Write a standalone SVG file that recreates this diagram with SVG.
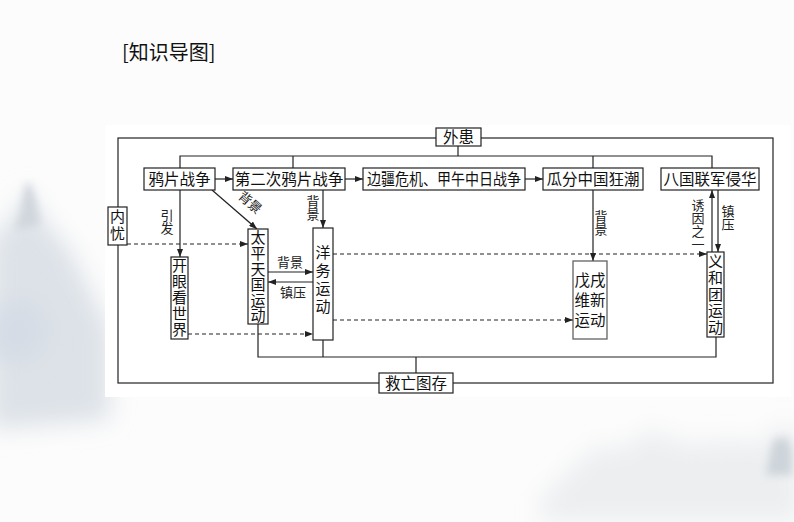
<svg xmlns="http://www.w3.org/2000/svg" width="794" height="522" viewBox="0 0 794 522">
<defs>
<style>
.box{fill:#fff;stroke:#222;stroke-width:1.2}
.ln{fill:none;stroke:#222;stroke-width:1.2}
.ar{fill:none;stroke:#222;stroke-width:1.2;marker-end:url(#ah)}
.da{fill:none;stroke:#222;stroke-width:1.2;stroke-dasharray:4 3;marker-end:url(#ah)}
.t{font-family:"Noto Sans CJK SC","Noto Sans CJK JP",sans-serif;font-size:15.5px;fill:#111;text-anchor:middle}
.v{font-family:"Noto Sans CJK SC","Noto Sans CJK JP",sans-serif;font-size:15px;fill:#111;text-anchor:middle;writing-mode:vertical-rl}
.s{font-family:"Noto Sans CJK SC","Noto Sans CJK JP",sans-serif;font-size:13px;fill:#222;text-anchor:middle}
.sv{font-family:"Noto Sans CJK SC","Noto Sans CJK JP",sans-serif;font-size:13px;fill:#222;text-anchor:middle;writing-mode:vertical-rl}
</style>
<marker id="ah" markerWidth="8" markerHeight="6" refX="8" refY="3" orient="auto" markerUnits="userSpaceOnUse">
<path d="M0,0 L8,3 L0,6 z" fill="#222"/>
</marker>
<filter id="blur" x="-50%" y="-50%" width="200%" height="200%"><feGaussianBlur stdDeviation="12"/></filter>
<filter id="blur2" x="-50%" y="-50%" width="200%" height="200%"><feGaussianBlur stdDeviation="4"/></filter>
</defs>
<rect x="0" y="0" width="794" height="522" fill="#fcfcfc"/>
<g id="mist">
<path d="M-10,240 L15,215 L27,190 L40,215 L70,250 L95,300 L110,330 L110,420 L-10,430 z" fill="#dde2e8" filter="url(#blur)"/>
<path d="M20,215 L25,185 L30,182 L36,200 L40,225 L15,230 z" fill="#d0d6dd" filter="url(#blur2)"/>
<path d="M-10,310 L30,300 L50,330 L30,360 L-10,360 z" fill="#d4dce5" filter="url(#blur)"/>
<path d="M540,500 L580,460 L600,445 L620,450 L650,430 L690,445 L730,440 L760,445 L780,425 L800,430 L800,522 L540,522 z" fill="#eceef0" filter="url(#blur)"/>
<path d="M772,445 L777,435 L781,442 L786,434 L792,450 L792,475 L766,475 z" fill="#cdd4da" filter="url(#blur2)"/>
</g>
<rect x="105" y="125" width="686" height="272" fill="#fff"/>
<text x="122" y="60" font-family="Noto Sans CJK SC,sans-serif" font-size="20" fill="#111">[知识导图]</text>
<g id="connectors">
<rect x="118" y="138" width="655" height="245" class="ln"/>
<path class="ln" d="M180,168 V156 H712 V168 M293,156 V168 M458,146 V156 M593,156 V168"/>
<path class="ar" d="M215,179 H233"/>
<path class="ar" d="M345,179 H363"/>
<path class="ar" d="M525,179 H543"/>
<path class="ar" d="M180,190 V257"/>
<path class="ar" d="M212,190 L257,229"/>
<path class="ar" d="M323,190 V228"/>
<path class="da" d="M127,244 H248"/>
<path class="ar" d="M268,272 H313"/>
<path class="ar" d="M313,282 H268"/>
<path class="da" d="M188,334 H313"/>
<path class="da" d="M333,254 H707"/>
<path class="da" d="M333,320 H573"/>
<path class="ar" d="M593,190 V261"/>
<path class="ar" d="M712,252 V190"/>
<path class="ar" d="M718,190 V252"/>
<path class="ln" d="M258,324 V357 H716 V337 M323,340 V357 M416,357 V373"/>
<text class="s" transform="translate(247,206) rotate(41)" x="0" y="0">背景</text>
<text class="sv" x="167" y="222">引发</text>
<text class="sv" x="313" y="208">背景</text>
<text class="s" x="290" y="267">背景</text>
<text class="s" x="293" y="297">镇压</text>
<text class="sv" x="601" y="223">背景</text>
<text class="sv" x="698" y="225">诱因之一</text>
<text class="sv" x="728" y="218">镇压</text>
</g>
<g id="n-waihuan"><rect class="box" x="436" y="128" width="45" height="18"/><text class="t" x="458.5" y="143">外患</text></g>
<g id="n-yapian"><rect class="box" x="144" y="168" width="71" height="22"/><text class="t" x="179.5" y="185">鸦片战争</text></g>
<g id="n-dierci"><rect class="box" x="233" y="168" width="112" height="22"/><text class="t" x="289" y="185">第二次鸦片战争</text></g>
<g id="n-bianjiang"><rect class="box" x="363" y="168" width="162" height="22"/><text class="t" x="444" y="185" textLength="154" lengthAdjust="spacingAndGlyphs">边疆危机、甲午中日战争</text></g>
<g id="n-guafen"><rect class="box" x="543" y="168" width="100" height="22"/><text class="t" x="593" y="185">瓜分中国狂潮</text></g>
<g id="n-baguo"><rect class="box" x="661" y="168" width="98" height="22"/><text class="t" x="710" y="185">八国联军侵华</text></g>
<g id="n-neiyou"><rect class="box" x="108" y="207" width="19" height="38"/><text class="v" x="117.5" y="226" style="letter-spacing:2px">内忧</text></g>
<g id="n-kaiyan"><rect class="box" x="171" y="257" width="17" height="82"/><text class="v" x="179.5" y="298" style="letter-spacing:1px">开眼看世界</text></g>
<g id="n-taiping"><rect class="box" x="248" y="229" width="20" height="95"/><text class="v" x="258" y="277" style="letter-spacing:0.6px">太平天国运动</text></g>
<g id="n-yangwu"><rect class="box" x="313" y="228" width="20" height="112"/><text class="v" x="323" y="281" style="letter-spacing:3px">洋务运动</text></g>
<g id="n-wuxu"><rect class="box" x="573" y="261" width="34" height="78" style="stroke:#555"/>
<text class="t"><tspan x="590" y="286">戊戌</tspan><tspan x="590" y="306">维新</tspan><tspan x="590" y="326">运动</tspan></text></g>
<g id="n-yihetuan"><rect class="box" x="707" y="252" width="17" height="85"/><text class="v" x="715.5" y="295" style="letter-spacing:1.6px">义和团运动</text></g>
<g id="n-jiuwang"><rect class="box" x="379" y="373" width="74" height="20"/><text class="t" x="416" y="389">救亡图存</text></g>
</svg>
